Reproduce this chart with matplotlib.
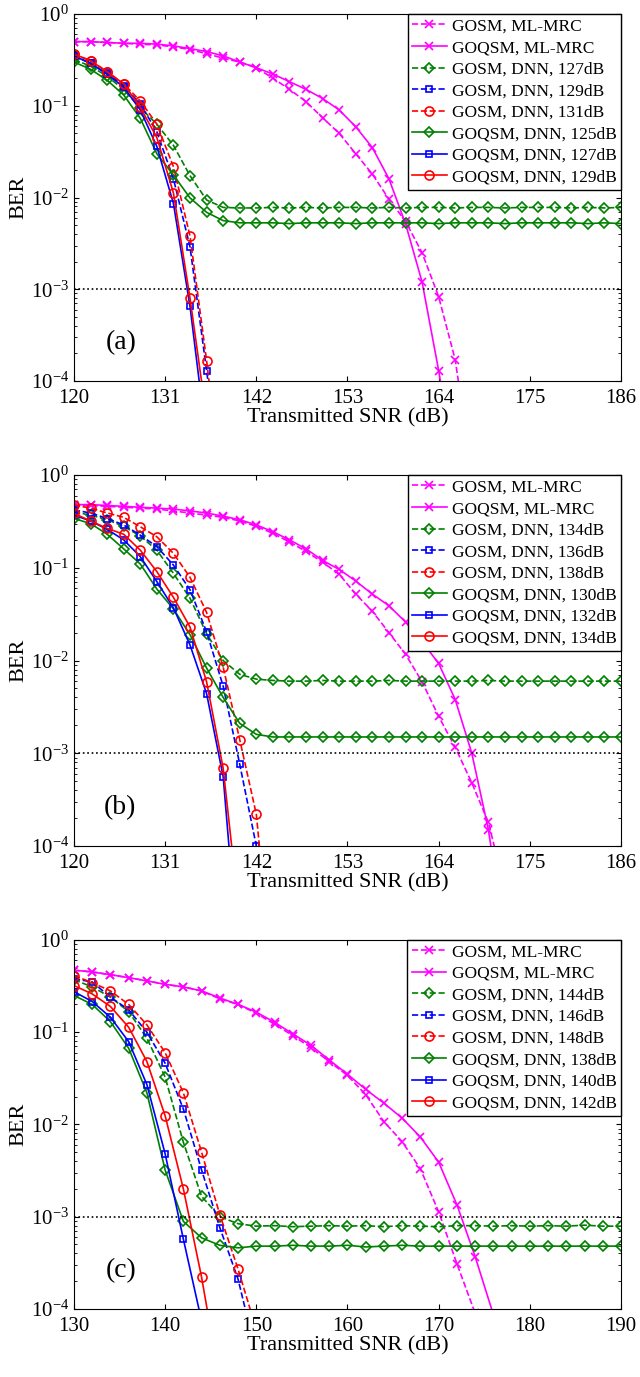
import numpy as np
import matplotlib
matplotlib.use('Agg')
import matplotlib.pyplot as plt

plt.rcParams['font.family'] = ['Liberation Serif', 'DejaVu Serif']
plt.rcParams['mathtext.default'] = 'regular'

# ---------------- data: panel (a) ----------------
snr_a = [120, 122, 124, 126, 128, 130, 132, 134, 136, 138, 140, 142, 144, 146, 148, 150, 152,
         154, 156, 158, 160, 162, 164, 166, 168, 170, 172, 174, 176, 178, 180, 182, 184, 186]
ml_gosm_a = [0.50, 0.50, 0.49, 0.48, 0.47, 0.46, 0.44, 0.41, 0.37, 0.33, 0.30, 0.26, 0.20,
             0.151, 0.111, 0.074, 0.050, 0.030, 0.018, 0.0096, 0.0055, 0.0025, 8.3e-4, 1.7e-4, 1e-5]
ml_goqsm_a = [0.50, 0.50, 0.49, 0.48, 0.48, 0.47, 0.45, 0.42, 0.39, 0.35, 0.30, 0.26, 0.222,
              0.183, 0.151, 0.120, 0.090, 0.059, 0.035, 0.016, 0.0052, 0.0012, 1.3e-4, 1e-5]
dnn_gosm1_a = [0.32, 0.27, 0.21, 0.15, 0.095, 0.063, 0.037, 0.0173, 0.0094, 0.0078, 0.0077,
               0.0077, 0.0078, 0.0077, 0.0078, 0.0077, 0.0078, 0.0078, 0.0077, 0.0078, 0.0077,
               0.0078, 0.0078, 0.0077, 0.0078, 0.0078, 0.0077, 0.0078, 0.0078, 0.0078, 0.0077,
               0.0078, 0.0077, 0.0078]
dnn_gosm2_a = [0.35, 0.29, 0.225, 0.165, 0.105, 0.052, 0.016, 0.0029, 1.3e-4, 5e-6]
dnn_gosm3_a = [0.366, 0.31, 0.235, 0.173, 0.113, 0.063, 0.0217, 0.0038, 1.67e-4, 5e-6]
dnn_goqsm1_a = [0.30, 0.25, 0.19, 0.131, 0.073, 0.030, 0.0176, 0.0099, 0.0069, 0.0056, 0.0053,
                0.0053, 0.0053, 0.0052, 0.0053, 0.0053, 0.0053, 0.0052, 0.0053, 0.0053, 0.0053,
                0.0053, 0.0052, 0.0053, 0.0053, 0.0053, 0.0052, 0.0053, 0.0053, 0.0053, 0.0053,
                0.0052, 0.0053, 0.0052]
dnn_goqsm2_a = [0.35, 0.29, 0.22, 0.16, 0.090, 0.036, 0.0086, 6.5e-4, 2.2e-5]
dnn_goqsm3_a = [0.366, 0.31, 0.235, 0.173, 0.096, 0.045, 0.0112, 8.0e-4, 4e-5]
labels_a = ['GOSM, ML-MRC', 'GOQSM, ML-MRC', 'GOSM, DNN, 127dB', 'GOSM, DNN, 129dB',
            'GOSM, DNN, 131dB', 'GOQSM, DNN, 125dB', 'GOQSM, DNN, 127dB', 'GOQSM, DNN, 129dB']

# ---------------- data: panel (b) ----------------
snr_b = snr_a
ml_gosm_b = [0.475, 0.47, 0.46, 0.45, 0.44, 0.43, 0.41, 0.39, 0.37, 0.35, 0.32, 0.28, 0.235,
             0.19, 0.15, 0.115, 0.085, 0.052, 0.034, 0.020, 0.0117, 0.0059, 0.0025, 0.00116,
             4.8e-4, 1.8e-4, 3.4e-5]
ml_goqsm_b = [0.48, 0.48, 0.47, 0.46, 0.45, 0.44, 0.43, 0.41, 0.39, 0.36, 0.33, 0.29, 0.245,
              0.20, 0.16, 0.12, 0.096, 0.072, 0.052, 0.039, 0.026, 0.016, 0.0093, 0.0038, 0.0010,
              1.5e-4, 1e-5]
dnn_gosm1_b = [0.40, 0.37, 0.33, 0.28, 0.22, 0.155, 0.087, 0.047, 0.0195, 0.010, 0.0071, 0.0063,
               0.0061, 0.0060, 0.0060, 0.0061, 0.0060, 0.0060, 0.0060, 0.0061, 0.0060, 0.0060,
               0.0060, 0.0060, 0.0060, 0.0061, 0.0060, 0.0060, 0.0060, 0.0060, 0.0060, 0.0060,
               0.0060, 0.0060]
dnn_gosm2_b = [0.42, 0.39, 0.34, 0.29, 0.225, 0.169, 0.107, 0.058, 0.0204, 0.0053, 7.6e-4, 1e-4]
dnn_gosm3_b = [0.475, 0.44, 0.39, 0.35, 0.277, 0.216, 0.143, 0.079, 0.033, 0.0085, 0.0014,
               2.2e-4, 3e-6]
dnn_goqsm1_b = [0.34, 0.30, 0.23, 0.16, 0.11, 0.059, 0.036, 0.019, 0.0083, 0.0040, 0.0021,
                0.0016, 0.0015, 0.0015, 0.0015, 0.0015, 0.0015, 0.0015, 0.0015, 0.0015, 0.0015,
                0.0015, 0.0015, 0.0015, 0.0015, 0.0015, 0.0015, 0.0015, 0.0015, 0.0015, 0.0015,
                0.0015, 0.0015, 0.0015]
dnn_goqsm2_b = [0.37, 0.32, 0.26, 0.20, 0.132, 0.071, 0.037, 0.0147, 0.0044, 5.6e-4, 4e-6]
dnn_goqsm3_b = [0.386, 0.32, 0.266, 0.23, 0.155, 0.091, 0.048, 0.023, 0.0059, 6.9e-4, 1.6e-5]
labels_b = ['GOSM, ML-MRC', 'GOQSM, ML-MRC', 'GOSM, DNN, 134dB', 'GOSM, DNN, 136dB',
            'GOSM, DNN, 138dB', 'GOQSM, DNN, 130dB', 'GOQSM, DNN, 132dB', 'GOQSM, DNN, 134dB']

# ---------------- data: panel (c) ----------------
snr_c = [130, 132, 134, 136, 138, 140, 142, 144, 146, 148, 150, 152, 154, 156, 158, 160,
         162, 164, 166, 168, 170, 172, 174, 176, 178, 180, 182, 184, 186, 188, 190]
ml_gosm_c = [0.47, 0.45, 0.42, 0.39, 0.36, 0.33, 0.31, 0.28, 0.23, 0.20, 0.16, 0.122, 0.092,
             0.068, 0.048, 0.034, 0.021, 0.0107, 0.0065, 0.0033, 0.00113, 3.1e-4, 9e-5]
ml_goqsm_c = [0.47, 0.45, 0.42, 0.39, 0.36, 0.33, 0.31, 0.28, 0.235, 0.20, 0.165, 0.128, 0.096,
              0.072, 0.050, 0.035, 0.024, 0.017, 0.0117, 0.0073, 0.0039, 0.00135, 3.7e-4, 8.7e-5]
dnn_gosm1_c = [0.37, 0.31, 0.24, 0.167, 0.086, 0.0326, 0.0064, 0.00166, 0.0010, 8.4e-4, 7.9e-4,
               8.0e-4, 7.8e-4, 7.9e-4, 8.0e-4, 7.9e-4, 8.0e-4, 7.8e-4, 8.0e-4, 7.9e-4, 7.8e-4,
               8.0e-4, 8.0e-4, 7.9e-4, 8.0e-4, 7.9e-4, 8.0e-4, 7.9e-4, 8.1e-4, 7.9e-4, 7.9e-4]
dnn_gosm2_c = [0.38, 0.35, 0.24, 0.175, 0.10, 0.046, 0.0147, 0.0032, 7.6e-4, 2.1e-4, 3.2e-5]
dnn_gosm3_c = [0.41, 0.345, 0.28, 0.20, 0.12, 0.060, 0.022, 0.0050, 0.00105, 2.7e-4, 6e-5]
dnn_goqsm1_c = [0.25, 0.20, 0.13, 0.067, 0.022, 0.0032, 8.9e-4, 5.9e-4, 4.9e-4, 4.6e-4, 4.8e-4,
                4.8e-4, 4.9e-4, 4.8e-4, 4.8e-4, 4.9e-4, 4.7e-4, 4.8e-4, 4.9e-4, 4.8e-4, 4.8e-4,
                4.8e-4, 4.8e-4, 4.8e-4, 4.8e-4, 4.8e-4, 4.8e-4, 4.8e-4, 4.8e-4, 4.8e-4, 4.8e-4]
dnn_goqsm2_c = [0.275, 0.215, 0.145, 0.079, 0.027, 0.0048, 5.7e-4, 7.4e-5]
dnn_goqsm3_c = [0.32, 0.26, 0.19, 0.113, 0.048, 0.0124, 0.0020, 2.2e-4, 1.6e-5]
labels_c = ['GOSM, ML-MRC', 'GOQSM, ML-MRC', 'GOSM, DNN, 144dB', 'GOSM, DNN, 146dB',
            'GOSM, DNN, 148dB', 'GOQSM, DNN, 138dB', 'GOQSM, DNN, 140dB', 'GOQSM, DNN, 142dB']

MAGENTA = '#ff00ff'
GREEN = '#008000'
BLUE = '#0000ff'
RED = '#ff0000'

# (color, marker, linestyle, markersize) for the 8 curves of every panel
styles = [(MAGENTA, 'x', '--', 6), (MAGENTA, 'x', '-', 6),
          (GREEN, 'D', '--', 5.5), (BLUE, 's', '--', 5), (RED, 'o', '--', 6.5),
          (GREEN, 'D', '-', 5.5), (BLUE, 's', '-', 5), (RED, 'o', '-', 6.5)]


def draw_panel(ax, snr, curves, labels, xticks, tag, tag_x):
    """Draw one BER panel with its legend and tag."""
    for vals, lab, (c, m, ls, ms) in zip(curves, labels, styles):
        ax.semilogy(snr[:len(vals)], vals, color=c, marker=m, linestyle=ls, lw=1.2,
                    markersize=ms, markerfacecolor='none', markeredgewidth=1.2, label=lab)
    ax.axhline(1e-3, color='k', linestyle=':', lw=1.2)
    ax.set_xlim(xticks[0], xticks[-1])
    ax.set_ylim(1e-4, 1)
    ax.set_xticks(xticks)
    ax.tick_params(which='both', direction='in', top=True, right=True, labelsize=15)
    ax.tick_params(axis='x', pad=6)
    ax.set_xlabel('Transmitted SNR (dB)', fontsize=16, labelpad=0)
    ax.set_ylabel('BER', fontsize=16, labelpad=2)
    ax.text(tag_x, 2.6e-4, tag, fontsize=20, ha='center', va='center')
    leg = ax.legend(loc='upper right', fontsize=12.5, borderaxespad=0, fancybox=False,
                    framealpha=1, edgecolor='k', handlelength=2.0, handletextpad=0.3,
                    labelspacing=0.31, borderpad=0.25)
    leg.get_frame().set_linewidth(1.0)


fig = plt.figure(figsize=(6.4, 13.77), dpi=100)
ax_a = fig.add_axes([0.1156, 0.7233, 0.8547, 0.2665])
ax_b = fig.add_axes([0.1156, 0.3856, 0.8547, 0.2694])
ax_c = fig.add_axes([0.1156, 0.0494, 0.8547, 0.2680])

draw_panel(ax_a, snr_a,
           [ml_gosm_a, ml_goqsm_a, dnn_gosm1_a, dnn_gosm2_a, dnn_gosm3_a,
            dnn_goqsm1_a, dnn_goqsm2_a, dnn_goqsm3_a],
           labels_a, [120, 131, 142, 153, 164, 175, 186], '(a)', 125.7)
draw_panel(ax_b, snr_b,
           [ml_gosm_b, ml_goqsm_b, dnn_gosm1_b, dnn_gosm2_b, dnn_gosm3_b,
            dnn_goqsm1_b, dnn_goqsm2_b, dnn_goqsm3_b],
           labels_b, [120, 131, 142, 153, 164, 175, 186], '(b)', 125.6)
draw_panel(ax_c, snr_c,
           [ml_gosm_c, ml_goqsm_c, dnn_gosm1_c, dnn_gosm2_c, dnn_gosm3_c,
            dnn_goqsm1_c, dnn_goqsm2_c, dnn_goqsm3_c],
           labels_c, [130, 140, 150, 160, 170, 180, 190], '(c)', 135.2)

fig.savefig('out.png', dpi=100)
